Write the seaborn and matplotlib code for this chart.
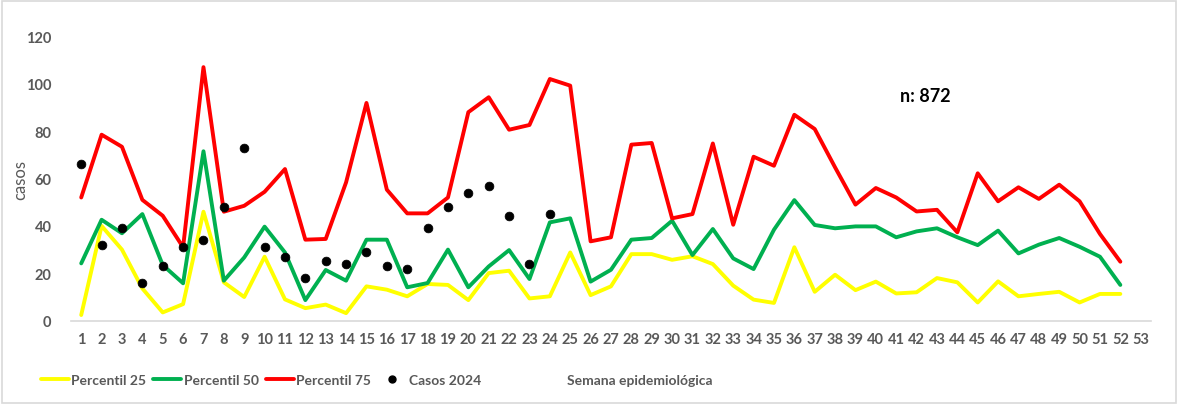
import numpy as np
import pandas as pd
import matplotlib.pyplot as plt
import seaborn as sns
from matplotlib.lines import Line2D
from matplotlib.patches import Rectangle

weeks = list(range(1, 53))
week_ticks = list(range(1, 54))

p25 = [2.4, 40, 30, 13.6, 3.5, 7, 46, 16.2, 10, 27, 9, 5.3, 6.8, 3.2, 14.5, 13.1, 10.3, 15.5, 15.1, 8.7,
       20.1, 21.1, 9.4, 10.3, 28.8, 10.8, 14.5, 28.1, 28.1, 25.7, 27.2, 23.9, 14.8, 8.9, 7.5, 31, 12.2, 19.4, 12.9, 16.5,
       11.5, 12, 18, 16.2, 7.7, 16.6, 10.3, 11.3, 12.2, 7.7, 11.3, 11.3]
p50 = [24.2, 42.6, 36.9, 45, 23.5, 15.8, 71.5, 16.9, 26.7, 39.7, 28.8, 8.7, 21.4, 16.9, 34.2, 34.2, 14.1, 15.9, 30, 14.1,
       22.9, 29.8, 17.6, 41.5, 43.2, 16.5, 21.5, 34.2, 34.9, 42.2, 27.7, 38.7, 26.3, 21.8, 38.4, 50.9, 40.4, 39, 39.8, 39.8,
       35.2, 37.7, 39, 35.2, 31.9, 38, 28.4, 32.1, 34.9, 31.2, 27, 15.1]
p75 = [52, 78.5, 73.4, 51, 44.3, 31, 107, 46, 48.5, 54.4, 64, 34.2, 34.5, 58.4, 91.9, 55.3, 45.3, 45.3, 52, 88,
       94.3, 80.6, 82.6, 102, 99.2, 33.5, 35.2, 74.3, 75, 43.2, 45, 74.8, 40.5, 69.2, 65.4, 86.9, 80.9, 64.7, 49, 56,
       52, 46.1, 46.8, 37.3, 62.2, 50.4, 56.3, 51.4, 57.4, 50.4, 36.6, 24.9]

weeks_2024 = list(range(1, 25))
cases_2024 = [66, 32, 39, 16, 23, 31, 34, 48, 73, 31, 27, 18, 25, 24, 29, 23, 22, 39, 48, 54, 57, 44, 24, 45]

series_names = ["Percentil 25", "Percentil 50", "Percentil 75"]
colors = {"Percentil 25": "#FFFF00", "Percentil 50": "#00B050", "Percentil 75": "#FF0000"}

df = pd.DataFrame({"semana": weeks, "Percentil 25": p25, "Percentil 50": p50, "Percentil 75": p75})
long_df = df.melt(id_vars="semana", var_name="serie", value_name="casos")
cases_df = pd.DataFrame({"semana": weeks_2024, "casos": cases_2024})

sns.set_style("white")
plt.rcParams["font.family"] = ["Lato", "DejaVu Sans"]

fig = plt.figure(figsize=(11.78, 4.06), dpi=100)
ax = fig.add_axes([0.0603, 0.2076, 0.9167, 0.7004])

sns.lineplot(data=long_df, x="semana", y="casos", hue="serie", hue_order=series_names,
             palette=colors, linewidth=2.8, legend=False, ax=ax)
sns.scatterplot(data=cases_df, x="semana", y="casos", color="black", s=40,
                edgecolor="black", zorder=5, legend=False, ax=ax)

ax.set_xlim(0.5, 53.5)
ax.set_ylim(0, 120)
ax.set_xticks(week_ticks)
ax.set_xticklabels([str(w) for w in week_ticks])
ax.set_yticks([0, 20, 40, 60, 80, 100, 120])
ax.tick_params(axis="both", length=0, labelsize=10.5, labelcolor="#595959", pad=8)
for lbl in ax.get_xticklabels() + ax.get_yticklabels():
    lbl.set_fontweight("bold")
ax.tick_params(axis="y", pad=14)
ax.set_xlabel("")
ax.set_ylabel("")
for side in ["top", "right", "left"]:
    ax.spines[side].set_visible(False)
ax.spines["bottom"].set_color("#D9D9D9")
ax.spines["bottom"].set_linewidth(1.2)

fig.text(20 / 1178, 1 - 180 / 406, "casos", rotation=90, ha="center", va="center",
         fontsize=12, color="#595959")
fig.text(925 / 1178, 1 - 97 / 406, "n: 872", ha="center", va="center",
         fontsize=13, fontweight="bold", color="black")

handles = [Line2D([0], [0], color=colors[n], lw=2.8) for n in series_names]
handles.append(Line2D([0], [0], color="black", marker="o", linestyle="none", markersize=5))
fig.legend(handles, series_names + ["Casos 2024"], loc="center left", bbox_to_anchor=(0.024, 0.062),
           ncol=4, frameon=False, handlelength=2.0, handletextpad=0.2, columnspacing=0.5,
           labelcolor="#595959", prop={"weight": "bold", "size": 10})
fig.text(640 / 1178, 1 - 381 / 406, "Semana epidemiológica", ha="center", va="center",
         fontsize=10, fontweight="bold", color="#595959")

fig.patches.append(Rectangle((0.002, 0.004), 0.996, 0.99, transform=fig.transFigure, fill=False,
                             edgecolor="#D9D9D9", linewidth=1.2))

fig.savefig("out.png", dpi=100)
